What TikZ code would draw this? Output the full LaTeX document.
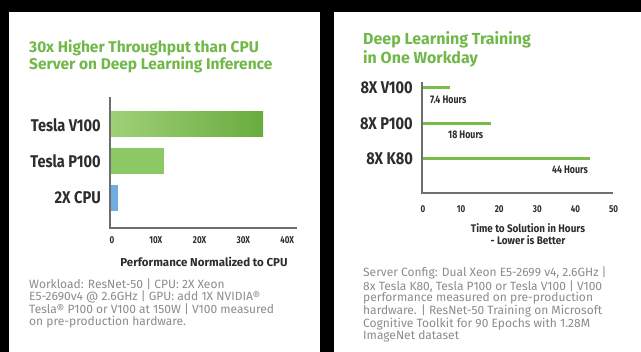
\documentclass[tikz,border=0pt]{standalone}
\usepackage{fontspec}
\setmainfont{Fira Sans}
\newfontfamily\narrowfont{Fira Sans}[FakeStretch=0.8]
\newfontfamily\labelfont{Fira Sans}[FakeStretch=0.86]
\newfontfamily\axisfont{Fira Sans}[FakeStretch=0.9]
\usepackage{tikz}
\tikzset{
  panel/.style={fill=white},
  charttitle/.style={font=\bfseries\fontsize{15.5}{17}\selectfont,text=titlegreen,
    inner sep=0pt,align=left,anchor=north west},
  barlabel/.style={font=\labelfont\bfseries\fontsize{17}{17}\selectfont,text=labelgray,
    inner sep=0pt,anchor=east},
  ticklabel/.style={font=\narrowfont\bfseries\fontsize{10}{10}\selectfont,text=labelgray,inner sep=0pt},
  valuelabel/.style={font=\narrowfont\bfseries\fontsize{11}{11}\selectfont,text=labelgray,inner sep=0pt},
  axistitle/.style={font=\axisfont\bfseries\fontsize{11}{12}\selectfont,text=labelgray,
    inner sep=0pt,align=center},
  footnote/.style={font=\fontsize{12}{11.8}\selectfont,text=notegray,
    inner sep=0pt,align=left,anchor=north west},
  axisline/.style={draw=axisgray,line width=1.2pt},
  hourbar/.style={draw=hourgreen,line width=3pt},
}
\definecolor{titlegreen}{RGB}{112,184,72}
\definecolor{labelgray}{RGB}{45,45,45}
\definecolor{notegray}{RGB}{140,140,140}
\definecolor{axisgray}{RGB}{110,110,110}
\definecolor{barlight}{RGB}{160,208,120}
\definecolor{bardark}{RGB}{104,172,62}
\definecolor{p100green}{RGB}{140,200,100}
\definecolor{cpublue}{RGB}{112,172,222}
\definecolor{hourgreen}{RGB}{118,190,72}

\begin{document}
\begin{tikzpicture}[x=1pt,y=-1pt]
\useasboundingbox (0,0) rectangle (641,352);
\fill[black] (0,0) rectangle (641,352);
\fill[panel] (9,12) rectangle (320,352);
\fill[panel] (334,12) rectangle (641,352);

% inference chart
\node[charttitle] (lefttitle) at (29,40) {30x Higher Throughput than CPU\\Server on Deep Learning Inference};
\fill[left color=barlight,right color=bardark] (110,112) rectangle (263,137);
\fill[p100green] (110,148) rectangle (164,174);
\fill[cpublue] (110,185) rectangle (118,211);
\draw[axisline] (110,97) -- (110,228) -- (297,228);
\node[barlabel] (tv100) at (101,125) {Tesla V100};
\node[barlabel] (tp100) at (101,161) {Tesla P100};
\node[barlabel] (cpu) at (101,198) {2X CPU};
\foreach \v/\t in {0/0,1/10X,2/20X,3/30X,4/40X}
  \node[ticklabel] (lt\v) at ({112+43.8*\v},240) {\t};
\node[axistitle,font=\bfseries\fontsize{11.5}{12}\selectfont] (leftaxis) at (204,262) {Performance Normalized to CPU};
\node[footnote] (leftnote) at (29,279) {Workload: ResNet-50 | CPU: 2X Xeon\\
  E5-2690v4 @ 2.6GHz | GPU: add 1X NVIDIA®\\
  Tesla® P100 or V100 at 150W | V100 measured\\
  on pre-production hardware.};

% training chart
\node[charttitle,font=\bfseries\fontsize{16}{19}\selectfont] (righttitle) at (363,31) {Deep Learning Training\\in One Workday};
\draw[hourbar] (422,88) -- (450,88);
\draw[hourbar] (422,124) -- (491,124);
\draw[hourbar] (422,159) -- (590,159);
\draw[axisline] (422,82) -- (422,193) -- (613,193);
\node[barlabel] (v100) at (413,88) {8X V100};
\node[barlabel] (p100) at (413,124) {8X P100};
\node[barlabel] (k80) at (413,159) {8X K80};
\node[valuelabel,anchor=west] (h74) at (430,100) {7.4 Hours};
\node[valuelabel,anchor=west] (h18) at (448,135) {18 Hours};
\node[valuelabel,anchor=east] (h44) at (588,170) {44 Hours};
\foreach \v in {0,...,5}
  \node[ticklabel] (rt\v) at ({423+38.1*\v},209) {\the\numexpr\v*10\relax};
\node[axistitle] (rightaxis) at (528,234) {Time to Solution in Hours\\- Lower is Better};
\node[footnote,font=\fontsize{12}{11.6}\selectfont] (rightnote) at (363,267) {Server Config: Dual Xeon E5-2699 v4, 2.6GHz |\\
  8x Tesla K80, Tesla P100 or Tesla V100 | V100\\
  performance measured on pre-production\\
  hardware. | ResNet-50 Training on Microsoft\\
  Cognitive Toolkit for 90 Epochs with 1.28M\\
  ImageNet dataset};
\end{tikzpicture}
\end{document}
